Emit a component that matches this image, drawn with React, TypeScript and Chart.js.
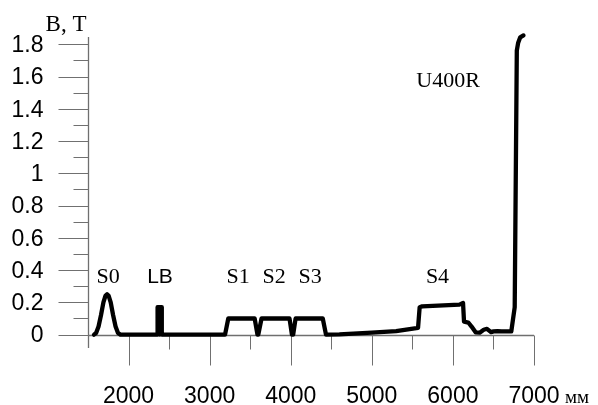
import { useEffect, useRef } from "react";
import { Chart, registerables } from "chart.js";

Chart.register(...registerables);

// Longitudinal position along the beamline, mm
const positionMm = [
  1574, 1600, 1630, 1660, 1690, 1715, 1735, 1755, 1780, 1810, 1840, 1870, 1900,
  2358, 2358, 2384, 2384, 2384, 2410, 2410,
  3190, 3230, 3555, 3590, 3600, 3640,
  3985, 4015, 4030, 4060, 4395, 4435,
  4600, 5000, 5300, 5570, 5590, 5620, 6080, 6125,
  6137, 6190, 6230, 6280, 6330, 6380, 6420, 6470, 6500, 6550, 6600, 6720,
  6762, 6788, 6805, 6830, 6870,
];
// Magnetic field, T
const fieldT = [
  0, 0.01, 0.05, 0.12, 0.2, 0.24, 0.25, 0.24, 0.2, 0.12, 0.05, 0.01, 0,
  0, 0.17, 0.17, 0, 0.17, 0.17, 0,
  0, 0.1, 0.1, 0, 0, 0.1,
  0.1, 0, 0, 0.1, 0.1, 0,
  0.002, 0.012, 0.022, 0.042, 0.17, 0.175, 0.186, 0.196,
  0.08, 0.075, 0.05, 0.014, 0.012, 0.03, 0.036, 0.015, 0.02, 0.022, 0.02, 0.02,
  0.17, 1.76, 1.81, 1.843, 1.855,
];

const xMajorTicks = [2000, 3000, 4000, 5000, 6000, 7000];
const xTickLabels = ["2000", "3000", "4000", "5000", "6000", "7000"];
const xMinorTicks = [2500, 3500, 4500, 5500, 6500];
const yMajorTicks = [0, 0.2, 0.4, 0.6, 0.8, 1, 1.2, 1.4, 1.6, 1.8];
const yTickLabels = ["0", "0.2", "0.4", "0.6", "0.8", "1", "1.2", "1.4", "1.6", "1.8"];
const yMinorTicks = [0.1, 0.3, 0.5, 0.7, 0.9, 1.1, 1.3, 1.5, 1.7];

const magnetNames = ["S0", "LB", "S1", "S2", "S3", "S4", "U400R"];
const magnetLabelX = [1747, 2388, 3350, 3794, 4238, 5810, 5940];
const magnetLabelY = [0.32, 0.32, 0.32, 0.32, 0.32, 0.32, 1.535];

const X_MIN = 1500;
const X_MAX = 7000;
const Y_MIN = -0.083;
const Y_MAX = 1.845;

const SERIF = '"Liberation Serif", "Times New Roman", serif';
const SANS = '"Liberation Sans", Arial, sans-serif';

const axesPlugin = {
  id: "customAxes",
  beforeDatasetsDraw(chart: any) {
    const ctx = chart.ctx as CanvasRenderingContext2D;
    const xs = chart.scales.x;
    const ys = chart.scales.y;
    const x0 = Math.round(xs.getPixelForValue(X_MIN)) + 0.5;
    const y0 = Math.round(ys.getPixelForValue(0)) + 0.5;
    const yBottom = ys.getPixelForValue(Y_MIN);
    const yTop = ys.getPixelForValue(Y_MAX);
    const xEnd = xs.getPixelForValue(X_MAX);
    ctx.save();
    ctx.strokeStyle = "#6f6f6f";
    ctx.lineWidth = 1.3;
    ctx.beginPath();
    // y axis
    ctx.moveTo(x0, yTop);
    ctx.lineTo(x0, yBottom);
    // x axis at B = 0
    ctx.moveTo(x0, y0);
    ctx.lineTo(xEnd, y0);
    ctx.stroke();

    ctx.lineWidth = 1;
    ctx.strokeStyle = "#707070";
    ctx.beginPath();
    for (const v of yMajorTicks) {
      const py = Math.round(ys.getPixelForValue(v)) + 0.5;
      ctx.moveTo(x0 - 30, py);
      ctx.lineTo(x0, py);
    }
    for (const v of yMinorTicks) {
      const py = Math.round(ys.getPixelForValue(v)) + 0.5;
      ctx.moveTo(x0 - 15, py);
      ctx.lineTo(x0, py);
    }
    for (const v of xMajorTicks) {
      const px = Math.round(xs.getPixelForValue(v)) + 0.5;
      ctx.moveTo(px, y0);
      ctx.lineTo(px, y0 + 30);
    }
    for (const v of xMinorTicks) {
      const px = Math.round(xs.getPixelForValue(v)) + 0.5;
      ctx.moveTo(px, y0);
      ctx.lineTo(px, y0 + 14);
    }
    ctx.stroke();

    ctx.fillStyle = "#000";
    ctx.font = `23px ${SANS}`;
    ctx.textAlign = "right";
    ctx.textBaseline = "middle";
    yMajorTicks.forEach((v, i) => {
      ctx.fillText(yTickLabels[i], x0 - 45, ys.getPixelForValue(v) + 1.5);
    });
    ctx.textAlign = "center";
    ctx.textBaseline = "alphabetic";
    xMajorTicks.forEach((v, i) => {
      ctx.fillText(xTickLabels[i], xs.getPixelForValue(v), y0 + 67);
    });

    // axis titles
    ctx.font = `23px ${SERIF}`;
    ctx.textAlign = "right";
    ctx.fillText("B, T", x0 - 2, yTop - 6);
    ctx.font = `19px ${SERIF}`;
    ctx.textAlign = "left";
    ctx.fillText("мм", xEnd + 31, y0 + 67);

    // magnet labels
    ctx.textAlign = "center";
    magnetNames.forEach((name, i) => {
      ctx.font = name === "LB" ? `21px ${SANS}` : `22px ${SERIF}`;
      ctx.fillText(name, xs.getPixelForValue(magnetLabelX[i]), ys.getPixelForValue(magnetLabelY[i]));
    });
    ctx.restore();
  },
};

export default function App() {
  const canvasRef = useRef<HTMLCanvasElement | null>(null);

  useEffect(() => {
    document.body.style.margin = "0";
    const canvas = canvasRef.current;
    if (!canvas) return;
    const chart = new Chart(canvas, {
      type: "line",
      data: {
        datasets: [
          {
            data: positionMm.map((x, i) => ({ x, y: fieldT[i] })),
            borderColor: "#000",
            borderWidth: 4.3,
            pointRadius: 0,
            tension: 0,
            borderJoinStyle: "round",
            borderCapStyle: "round",
            fill: false,
            clip: false as any,
          },
        ],
      },
      options: {
        animation: false,
        responsive: false,
        maintainAspectRatio: false,
        devicePixelRatio: 1,
        layout: { padding: { left: 88, right: 64, top: 37, bottom: 57 } },
        plugins: { legend: { display: false }, tooltip: { enabled: false } },
        events: [],
        scales: {
          x: { type: "linear", min: X_MIN, max: X_MAX, display: false },
          y: { type: "linear", min: Y_MIN, max: Y_MAX, display: false },
        },
      },
      plugins: [axesPlugin],
    });
    return () => chart.destroy();
  }, []);

  return (
    <div style={{ width: 598, height: 405, background: "#fff" }}>
      <canvas ref={canvasRef} width={598} height={405} style={{ display: "block" }} />
    </div>
  );
}
